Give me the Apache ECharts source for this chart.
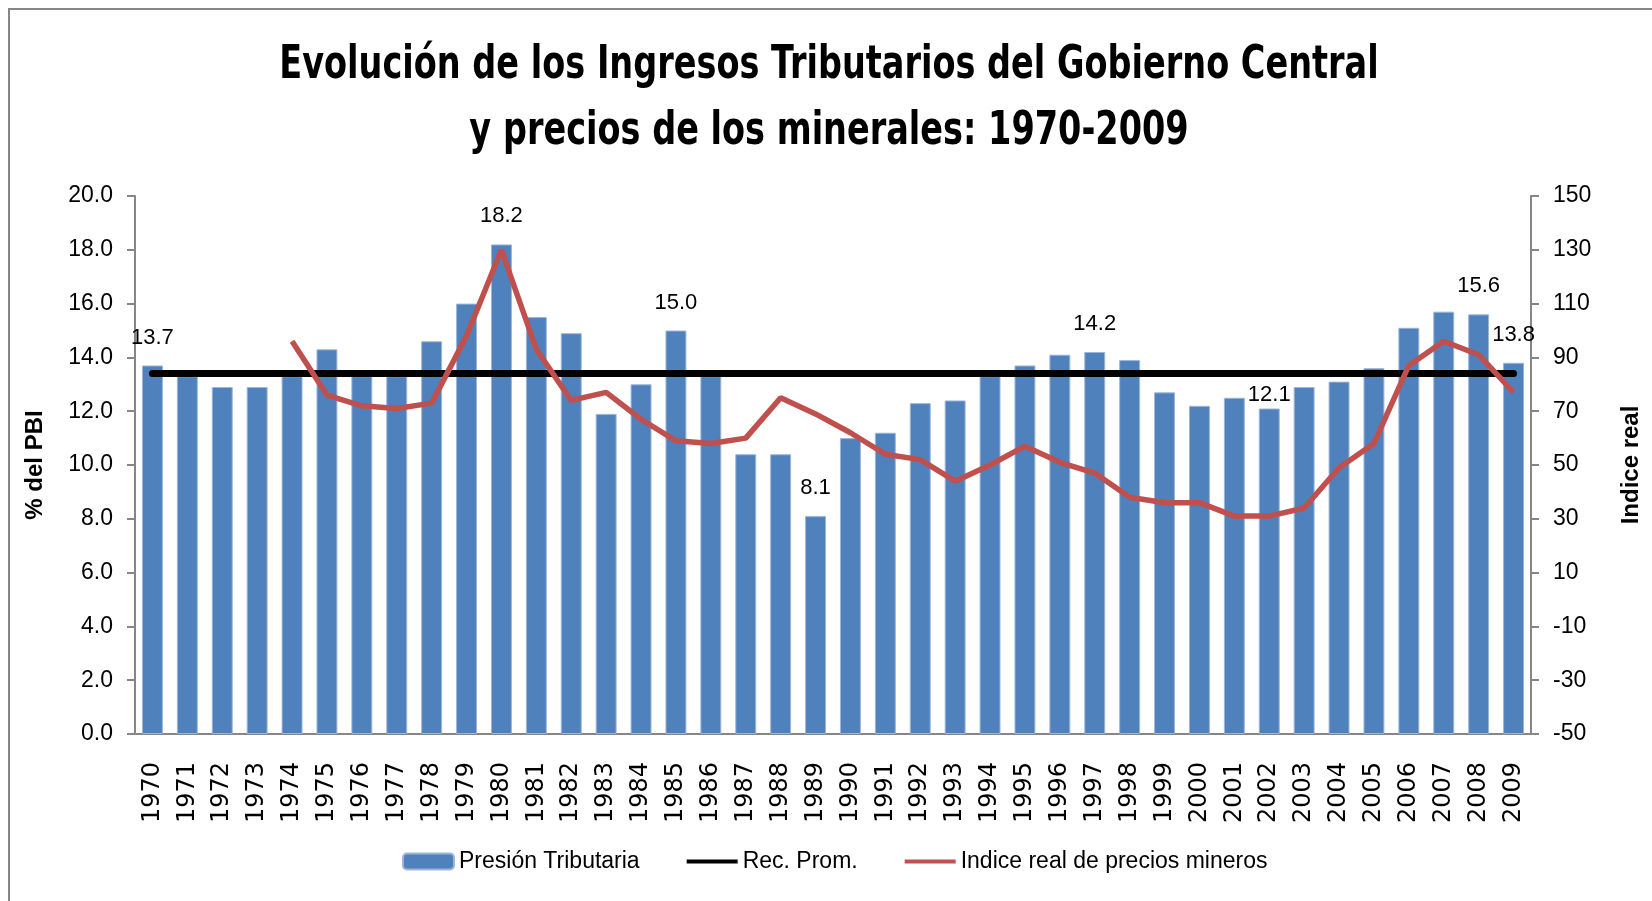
<!DOCTYPE html>
<html>
<head>
<meta charset="utf-8">
<script src="https://cdn.jsdelivr.net/npm/echarts@6/dist/echarts.min.js"></script>
<style>
  html, body { margin: 0; padding: 0; background: #fff; }
  #chart { width: 1652px; height: 901px; }
</style>
</head>
<body>
<div id="chart"></div>
<script>
const years = ['1970', '1971', '1972', '1973', '1974', '1975', '1976', '1977', '1978', '1979',
  '1980', '1981', '1982', '1983', '1984', '1985', '1986', '1987', '1988', '1989',
  '1990', '1991', '1992', '1993', '1994', '1995', '1996', '1997', '1998', '1999',
  '2000', '2001', '2002', '2003', '2004', '2005', '2006', '2007', '2008', '2009'];

// % del PBI
const presion = [13.7, 13.3, 12.9, 12.9, 13.3, 14.3, 13.3, 13.3, 14.6, 16.0,
  18.2, 15.5, 14.9, 11.9, 13.0, 15.0, 13.3, 10.4, 10.4, 8.1,
  11.0, 11.2, 12.3, 12.4, 13.3, 13.7, 14.1, 14.2, 13.9, 12.7,
  12.2, 12.5, 12.1, 12.9, 13.1, 13.6, 15.1, 15.7, 15.6, 13.8];

// average line
const recProm = [13.4, 13.4, 13.4, 13.4, 13.4, 13.4, 13.4, 13.4, 13.4, 13.4,
  13.4, 13.4, 13.4, 13.4, 13.4, 13.4, 13.4, 13.4, 13.4, 13.4,
  13.4, 13.4, 13.4, 13.4, 13.4, 13.4, 13.4, 13.4, 13.4, 13.4,
  13.4, 13.4, 13.4, 13.4, 13.4, 13.4, 13.4, 13.4, 13.4, 13.4];

// indice real de precios mineros (eje derecho)
const indice = [null, null, null, null, 96, 76, 72, 71, 73, 98,
  130, 93, 74, 77, 67, 59, 58, 60, 75, 69,
  62, 54, 52, 44, 50, 57, 51, 47, 38, 36,
  36, 31, 31, 34, 49, 58, 87, 96, 91, 77];

const labeledYears = ['1970', '1980', '1985', '1989', '1997', '2002', '2008', '2009'];

const titleLines = [
  'Evolución de los Ingresos Tributarios del Gobierno Central',
  'y precios de los minerales: 1970-2009',
];

const leftTicks = { min: 0, max: 20, interval: 2 };
const rightTicks = { min: -50, max: 150, interval: 20 };

const baseFont = 'Liberation Sans, Arial, sans-serif';
const axisGray = '#868686';
const lineIcon = 'path://M0 0 H51 V4 H0 Z';

// the 2002 label sits close to its bar in the original
const barData = presion.map((v, i) => ({
  value: v,
  label: {
    show: labeledYears.includes(years[i]),
    distance: years[i] === '2002' ? 3 : 17,
  },
}));

// title drawn as squeezed text, the condensed bold face is not installed
const titleText = (text, y) => ({
  type: 'text',
  x: 829,
  y: y,
  scaleX: 0.81,
  silent: true,
  style: {
    text: text,
    textAlign: 'center',
    textVerticalAlign: 'middle',
    fontFamily: 'DejaVu Sans Condensed, sans-serif',
    fontWeight: 'bold',
    fontSize: 46,
    fill: '#000',
  },
});

const chart = echarts.init(document.getElementById('chart'));

chart.setOption({
  backgroundColor: '#fff',
  animation: false,
  graphic: [
    {
      type: 'rect',
      shape: { x: 9, y: 9, width: 1700, height: 1000 },
      style: { fill: 'none', stroke: axisGray, lineWidth: 2 },
      silent: true,
    },
    titleText(titleLines[0], 66),
    titleText(titleLines[1], 132),
  ],
  legend: {
    left: 397,
    top: 845,
    itemWidth: 51,
    itemHeight: 16,
    itemGap: 47,
    textStyle: { fontFamily: baseFont, fontSize: 23, color: '#000' },
    data: [
      { name: 'Presión Tributaria' },
      { name: 'Rec. Prom.', icon: lineIcon },
      { name: 'Indice real de precios mineros', icon: lineIcon },
    ],
  },
  grid: { left: 135, right: 121, top: 196, bottom: 167 },
  xAxis: {
    type: 'category',
    data: years,
    axisLine: { lineStyle: { color: axisGray, width: 2 } },
    axisTick: { alignWithLabel: false, length: 8, lineStyle: { color: axisGray, width: 2 } },
    axisLabel: {
      interval: 0,
      rotate: 90,
      margin: 28,
      fontFamily: 'DejaVu Sans, sans-serif',
      fontSize: 24,
      color: '#000',
    },
  },
  yAxis: [
    {
      type: 'value',
      ...leftTicks,
      name: '% del PBI',
      nameLocation: 'middle',
      nameRotate: 90,
      nameGap: 88,
      nameTextStyle: { fontFamily: baseFont, fontWeight: 'bold', fontSize: 24, color: '#000' },
      axisLine: { show: true, lineStyle: { color: axisGray, width: 2 } },
      axisTick: { show: true, length: 8, lineStyle: { color: axisGray, width: 2 } },
      splitLine: { show: false },
      axisLabel: {
        margin: 22,
        fontFamily: baseFont,
        fontSize: 23,
        color: '#000',
        formatter: (v) => v.toFixed(1),
      },
    },
    {
      type: 'value',
      ...rightTicks,
      position: 'right',
      name: 'Indice real',
      nameLocation: 'middle',
      nameRotate: 90,
      nameGap: 88,
      nameTextStyle: { fontFamily: baseFont, fontWeight: 'bold', fontSize: 24, color: '#000' },
      axisLine: { show: true, lineStyle: { color: axisGray, width: 2 } },
      axisTick: { show: true, length: 8, lineStyle: { color: axisGray, width: 2 } },
      splitLine: { show: false },
      axisLabel: { margin: 22, fontFamily: baseFont, fontSize: 23, color: '#000' },
    },
  ],
  series: [
    {
      name: 'Presión Tributaria',
      type: 'bar',
      data: barData,
      barWidth: '60%',
      itemStyle: { color: '#4F81BD', borderColor: '#9DB6D8', borderWidth: 1 },
      label: {
        position: 'top',
        fontFamily: baseFont,
        fontSize: 22,
        color: '#000',
        formatter: (p) => p.value.toFixed(1),
      },
      z: 1,
    },
    {
      name: 'Rec. Prom.',
      type: 'line',
      data: recProm,
      symbol: 'none',
      itemStyle: { color: '#000' },
      lineStyle: { color: '#000', width: 7, cap: 'round' },
      z: 3,
    },
    {
      name: 'Indice real de precios mineros',
      type: 'line',
      yAxisIndex: 1,
      data: indice,
      symbol: 'none',
      itemStyle: { color: '#C0504D' },
      lineStyle: { color: '#C0504D', width: 5.5 },
      z: 4,
    },
  ],
});
</script>
</body>
</html>
